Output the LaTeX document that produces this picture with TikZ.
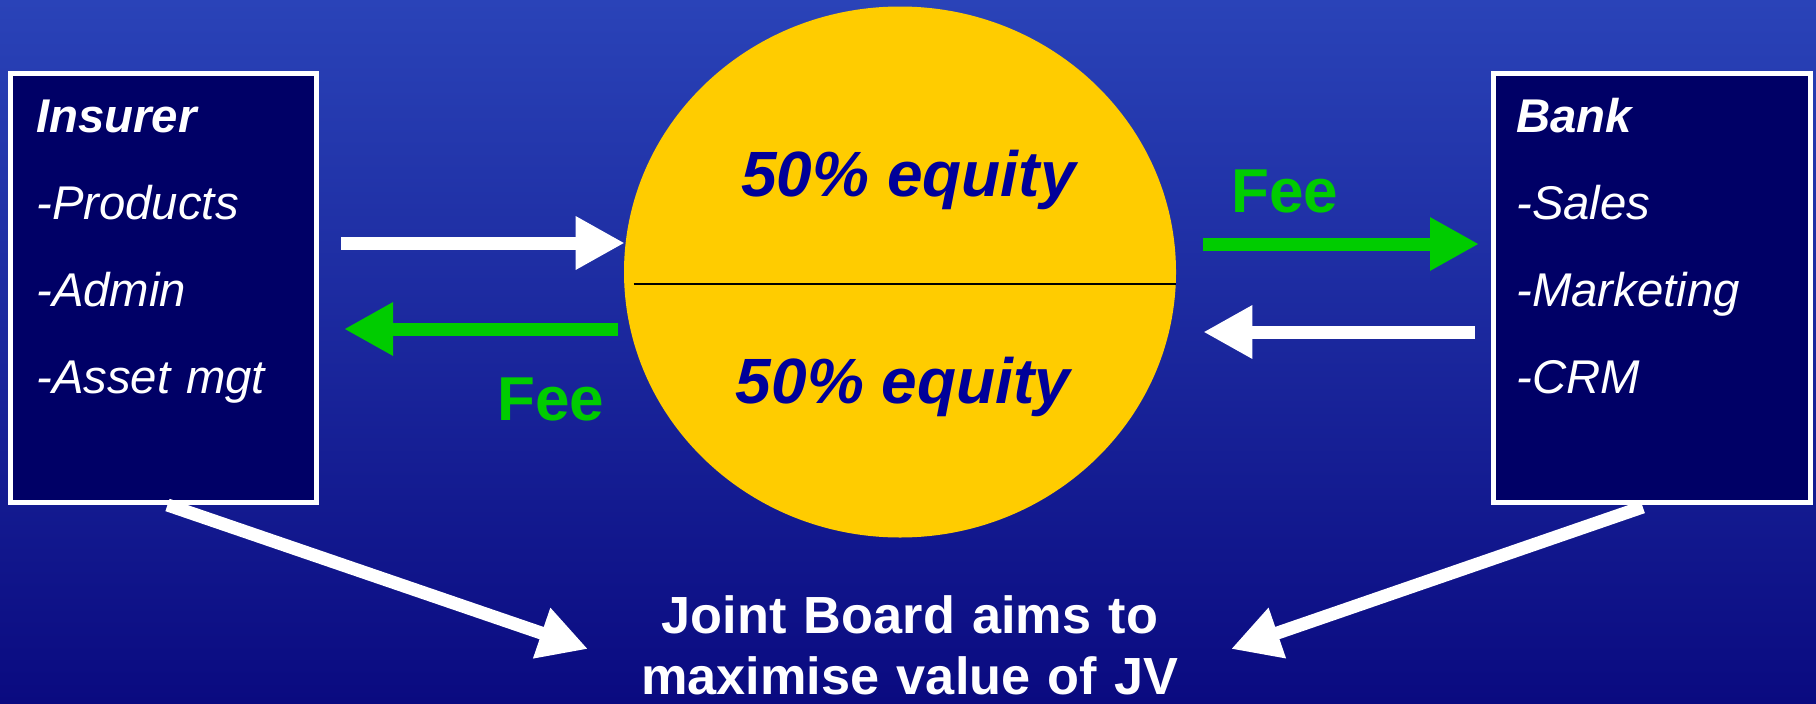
\documentclass[tikz,border=0pt]{standalone}
\usepackage{fontspec}
\setmainfont{Liberation Sans}
\usepackage{xcolor}
\usetikzlibrary{shapes.geometric, arrows.meta}

\definecolor{slidetop}{RGB}{42,67,184}
\definecolor{slidebottom}{RGB}{10,10,128}
\definecolor{boxnavy}{RGB}{0,0,102}
\definecolor{jvyellow}{RGB}{255,204,0}
\definecolor{equityblue}{RGB}{0,0,153}
\definecolor{feegreen}{RGB}{0,204,0}

\begin{document}
\begin{tikzpicture}[x=0.75pt, y=-0.75pt,
    partner/.style={draw=white, line width=3.75pt, fill=boxnavy, minimum height=322.1pt},
    partnertext/.style={anchor=base west, inner sep=0pt, text width=215pt, align=left, text=white,
        font=\itshape\fontsize{35.5}{65.25}\selectfont},
    equity/.style={anchor=base, inner sep=0pt, text=equityblue, font=\bfseries\itshape\fontsize{48}{56}\selectfont},
    fee/.style={anchor=base, inner sep=0pt, text=feegreen, font=\bfseries\fontsize{46.5}{55}\selectfont},
    fatarrow/.style={line width=9.75pt, -{Triangle[length=36.75pt, width=37.5pt]}}]
    \useasboundingbox (0,0) rectangle (1816,703);
    \shade [top color=slidetop, bottom color=slidebottom] (0,0) rectangle (1816,703);

    % the two partners
    \node [partner, minimum width=229.5pt] (insurer) at (163.5,287.75) {};
    \node [partner, minimum width=238.1pt] (bank) at (1651.75,287.75) {};
    \node [partnertext] (insurerlist) at ([shift={(28,61.5)}]insurer.north west)
        {\textbf{Insurer}\\-Products\\-Admin\\-Asset mgt};
    \node [partnertext] (banklist) at ([shift={(25.5,61.5)}]bank.north west)
        {\textbf{Bank}\\-Sales\\-Marketing\\-CRM};

    % the joint venture
    \node [ellipse, fill=jvyellow, inner sep=0pt, minimum width=414pt, minimum height=398.25pt] (jv) at (900,272) {};
    \draw [line width=1.5pt] ([shift={(10,12)}]jv.west) -- ([shift={(0,12)}]jv.east);
    \node [equity] (upper) at ([shift={(8.5,-76)}]jv.center) {50\% equity};
    \node [equity] (lower) at ([shift={(3,131.5)}]jv.center) {50\% equity};

    \node [fee] (feeleft) at (551,420) {Fee};
    \node [fee] (feeright) at (1285,212) {Fee};

    \node [anchor=base, inner sep=0pt, text width=450pt, align=center, text=white,
        font=\bfseries\fontsize{39.2}{45.75}\selectfont] (board) at (910,633)
        {Joint Board aims to\\maximise value of JV};

    \draw [fatarrow, white] ([shift={(22,-44.75)}]insurer.east) -- ([shift={(1,-29)}]jv.west);
    \draw [fatarrow, feegreen] ([shift={(-6,57)}]jv.west) -- ([shift={(25,41.25)}]insurer.east);
    \draw [fatarrow, feegreen] ([shift={(27,-28)}]jv.east) -- ([shift={(-11.5,-43.75)}]bank.west);
    \draw [fatarrow, white] ([shift={(-15.5,44.25)}]bank.west) -- ([shift={(27,60)}]jv.east);

    \draw [fatarrow, white] ([shift={(4,0)}]insurer.south) -- ([shift={(-322,16)}]board.base);
    \draw [fatarrow, white] ([shift={(-9,2)}]bank.south) -- ([shift={(321,16)}]board.base);
\end{tikzpicture}
\end{document}
